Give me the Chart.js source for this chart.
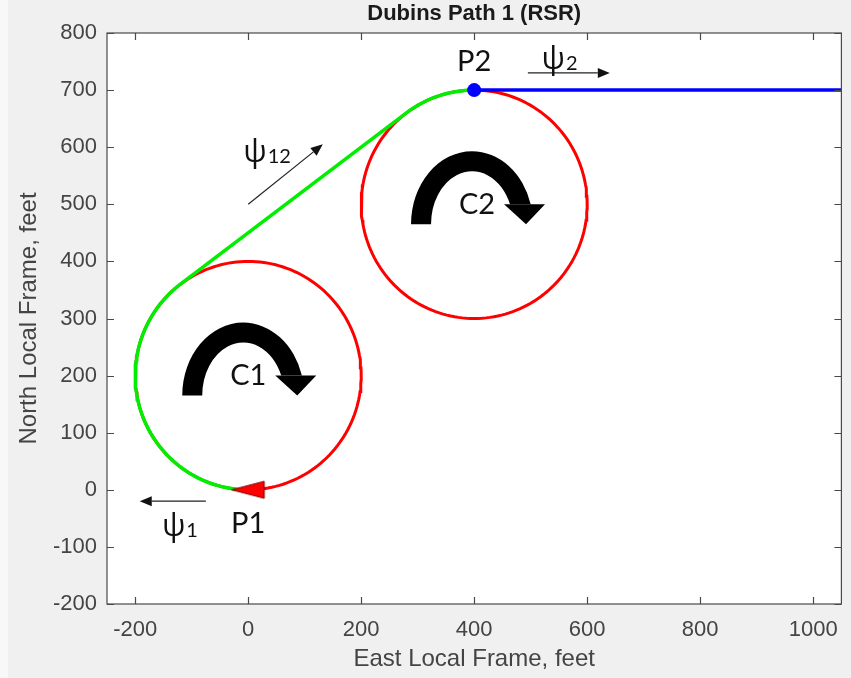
<!DOCTYPE html>
<html>
<head>
<meta charset="utf-8">
<title>Dubins Path 1 (RSR)</title>
<script src="https://cdn.jsdelivr.net/npm/chart.js@4.4.0/dist/chart.umd.min.js"></script>
<style>
  html, body { margin: 0; padding: 0; background: #ffffff; }
  canvas { display: block; }
</style>
</head>
<body>
<canvas id="dubinsChart" width="851" height="678"></canvas>
<script>
// values (feet)
const circleCenters = [[0, 200], [400, 500]];
const turnRadius = 200;
const startPoint = [0, 0];          // P1, heading west
const endPoint = [400, 700];        // P2, heading east
const tangentPoints = [[-120, 360], [280, 660]];
const exitLine = [[400, 700], [1050, 700]];

const xRange = [-250, 1050];
const yRange = [-200, 800];
const xTickValues = [-200, 0, 200, 400, 600, 800, 1000];
const yTickValues = [-200, -100, 0, 100, 200, 300, 400, 500, 600, 700, 800];

// text labels and thin direction arrows, placed in data units
const pointLabels = [
    {text: 'P1', x: 0, y: -60},
    {text: 'P2', x: 400, y: 749},
    {text: 'C1', x: 0, y: 200},
    {text: 'C2', x: 405, y: 500}
];
const headingLabels = [
    {sub: '1', x: -132, y: -66},
    {sub: '12', x: 12, y: 589},
    {sub: '2', x: 540, y: 752}
];
const headingArrows = [
    {from: [-75, -20], to: [-192, -20]},
    {from: [0, 500], to: [132, 605]},
    {from: [495, 730], to: [640, 730]}
];
// big clockwise turn arrows sit on the C1 / C2 labels
const turnArrowAnchors = [[0, 200], [405, 500]];

const toRad = (d) => d * Math.PI / 180;
const angleOf = (c, p) => Math.atan2(p[1] - c[1], p[0] - c[0]) * 180 / Math.PI;

// points along a circle arc, angles in degrees (decreasing = clockwise)
function arcPoints(center, r, fromDeg, toDeg) {
    const pts = [];
    const n = Math.max(2, Math.ceil(Math.abs(toDeg - fromDeg) / 2));
    for (let i = 0; i <= n; i++) {
        const a = toRad(fromDeg + (toDeg - fromDeg) * i / n);
        pts.push({x: center[0] + r * Math.cos(a), y: center[1] + r * Math.sin(a)});
    }
    return pts;
}

// RSR path: right turn on C1, straight, right turn on C2
const startAngle = angleOf(circleCenters[0], startPoint) + 360;      // 270
const leaveAngle = angleOf(circleCenters[0], tangentPoints[0]);      // ~127
const enterAngle = angleOf(circleCenters[1], tangentPoints[1]);      // ~127
const finishAngle = angleOf(circleCenters[1], endPoint);             // 90
const pathPoints = [
    ...arcPoints(circleCenters[0], turnRadius, startAngle, leaveAngle),
    ...arcPoints(circleCenters[1], turnRadius, enterAngle, finishAngle)
];

// left pointing triangle marker for P1
function makeTriangle() {
    const c = document.createElement('canvas');
    c.width = 36; c.height = 21;
    const g = c.getContext('2d');
    g.beginPath();
    g.moveTo(1.5, 10.5);
    g.lineTo(34, 2);
    g.lineTo(34, 19);
    g.closePath();
    g.fillStyle = '#ff0000';
    g.fill();
    g.strokeStyle = '#7a0000';
    g.lineWidth = 1;
    g.stroke();
    return c;
}

const backgroundPlugin = {
    id: 'figureBackground',
    beforeDraw(chart) {
        const {ctx, chartArea: a} = chart;
        ctx.save();
        ctx.fillStyle = '#f8f8f8';
        ctx.fillRect(0, 0, chart.width, chart.height);
        ctx.fillStyle = '#f0f0f0';
        ctx.fillRect(8, 0, chart.width - 8, chart.height);
        ctx.fillStyle = '#ffffff';
        ctx.fillRect(a.left, a.top, a.right - a.left, a.bottom - a.top);
        ctx.restore();
    }
};

// MATLAB style box with inward ticks on all four sides
const boxPlugin = {
    id: 'axesBox',
    afterDatasetsDraw(chart) {
        const {ctx, chartArea: a, scales: {x, y}} = chart;
        const len = 7;
        ctx.save();
        ctx.strokeStyle = '#4a4a4a';
        ctx.lineWidth = 1.2;
        ctx.beginPath();
        xTickValues.forEach(v => {
            const px = Math.round(x.getPixelForValue(v)) + 0.5;
            ctx.moveTo(px, a.bottom); ctx.lineTo(px, a.bottom - len);
            ctx.moveTo(px, a.top); ctx.lineTo(px, a.top + len);
        });
        yTickValues.forEach(v => {
            const py = Math.round(y.getPixelForValue(v)) + 0.5;
            ctx.moveTo(a.left, py); ctx.lineTo(a.left + len, py);
            ctx.moveTo(a.right, py); ctx.lineTo(a.right - len, py);
        });
        ctx.stroke();
        ctx.strokeRect(a.left, a.top, a.right - a.left, a.bottom - a.top);
        ctx.restore();
    }
};

function drawArrow(ctx, x0, y0, x1, y1) {
    const ang = Math.atan2(y1 - y0, x1 - x0);
    const head = 12, half = 5;
    const bx = x1 - head * Math.cos(ang), by = y1 - head * Math.sin(ang);
    ctx.beginPath();
    ctx.moveTo(x0, y0);
    ctx.lineTo(bx, by);
    ctx.stroke();
    ctx.beginPath();
    ctx.moveTo(x1, y1);
    ctx.lineTo(bx + half * Math.sin(ang), by - half * Math.cos(ang));
    ctx.lineTo(bx - half * Math.sin(ang), by + half * Math.cos(ang));
    ctx.closePath();
    ctx.fill();
}

function drawTurnArrow(ctx, lx, ly) {
    const cx = lx - 5, cy = ly + 20;
    const outerEnd = 2 * Math.PI - Math.asin(20 / 73);
    const innerEnd = 2 * Math.PI - Math.asin(20 / 53);
    ctx.beginPath();
    ctx.ellipse(cx, cy, 61, 73, 0, Math.PI, outerEnd, false);
    ctx.ellipse(cx, cy, 41, 53, 0, innerEnd, Math.PI, true);
    ctx.closePath();
    ctx.fill();
    ctx.beginPath();
    ctx.moveTo(lx + 27, ly);
    ctx.lineTo(lx + 68, ly);
    ctx.lineTo(lx + 49, ly + 20);
    ctx.closePath();
    ctx.fill();
}

const annotationPlugin = {
    id: 'pathAnnotations',
    afterDatasetsDraw(chart) {
        const {ctx, scales: {x, y}} = chart;
        ctx.save();
        ctx.fillStyle = '#000000';
        turnArrowAnchors.forEach(p => {
            drawTurnArrow(ctx, x.getPixelForValue(p[0]), y.getPixelForValue(p[1]));
        });

        ctx.fillStyle = '#111111';
        ctx.strokeStyle = '#222222';
        ctx.lineWidth = 1.2;
        headingArrows.forEach(a => {
            drawArrow(ctx, x.getPixelForValue(a.from[0]), y.getPixelForValue(a.from[1]),
                x.getPixelForValue(a.to[0]), y.getPixelForValue(a.to[1]));
        });

        ctx.textBaseline = 'middle';
        ctx.font = '29px Lato, "Open Sans", sans-serif';
        ctx.textAlign = 'center';
        pointLabels.forEach(l => {
            ctx.fillText(l.text, x.getPixelForValue(l.x), y.getPixelForValue(l.y));
        });

        headingLabels.forEach(l => {
            const px = x.getPixelForValue(l.x), py = y.getPixelForValue(l.y);
            ctx.font = '31px "Open Sans", "DejaVu Sans", sans-serif';
            ctx.textAlign = 'center';
            const w = ctx.measureText('ψ').width;
            ctx.fillText('ψ', px, py);
            ctx.font = '20px Lato, "Open Sans", sans-serif';
            ctx.textAlign = 'left';
            ctx.fillText(l.sub, px + w / 2 + 1, py + 3);
        });
        ctx.restore();
    }
};

const fontFamily = '"Liberation Sans", Arial, sans-serif';
const tickFont = {family: fontFamily, size: 22};
const labelFont = {family: fontFamily, size: 24, lineHeight: 1.2};
const tickColor = '#444444';

new Chart(document.getElementById('dubinsChart'), {
    type: 'scatter',
    data: {
        datasets: [
            {
                label: 'P1',
                data: [{x: startPoint[0], y: startPoint[1]}],
                pointStyle: makeTriangle(),
                order: 0
            },
            {
                label: 'P2',
                data: [{x: endPoint[0], y: endPoint[1]}],
                pointStyle: 'circle',
                pointRadius: 7,
                backgroundColor: '#0000ff',
                borderColor: '#0000ff',
                borderWidth: 0,
                order: 1
            },
            {
                label: 'RSR path',
                data: pathPoints,
                showLine: true,
                borderColor: '#00ee00',
                borderWidth: 3.5,
                pointRadius: 0,
                borderJoinStyle: 'round',
                borderCapStyle: 'round',
                order: 2
            },
            {
                label: 'Exit',
                data: exitLine.map(p => ({x: p[0], y: p[1]})),
                showLine: true,
                borderColor: '#0000ff',
                borderWidth: 3.5,
                pointRadius: 0,
                order: 3
            },
            {
                label: 'C1',
                data: arcPoints(circleCenters[0], turnRadius, 0, 360),
                showLine: true,
                borderColor: '#ff0000',
                borderWidth: 3,
                pointRadius: 0,
                order: 4
            },
            {
                label: 'C2',
                data: arcPoints(circleCenters[1], turnRadius, 0, 360),
                showLine: true,
                borderColor: '#ff0000',
                borderWidth: 3,
                pointRadius: 0,
                order: 4
            }
        ]
    },
    options: {
        responsive: false,
        animation: false,
        layout: {padding: {left: 0, right: 9, top: 0, bottom: 0}},
        plugins: {
            legend: {display: false},
            tooltip: {enabled: false},
            title: {
                display: true,
                fullSize: false,
                text: 'Dubins Path 1 (RSR)',
                color: '#1a1a1a',
                font: {family: fontFamily, size: 22, weight: 'bold', lineHeight: 1.2},
                padding: {top: 1, bottom: 5.6}
            }
        },
        scales: {
            x: {
                type: 'linear',
                min: xRange[0],
                max: xRange[1],
                grid: {display: false, drawTicks: false},
                border: {display: false},
                afterBuildTicks: (s) => { s.ticks = xTickValues.map(v => ({value: v})); },
                afterFit: (s) => { s.height = 74; },
                ticks: {font: tickFont, color: tickColor, padding: 13, maxRotation: 0, callback: (v) => String(v)},
                title: {
                    display: true,
                    text: 'East Local Frame, feet',
                    color: tickColor,
                    font: labelFont,
                    padding: {top: 0, bottom: 4}
                }
            },
            y: {
                type: 'linear',
                min: yRange[0],
                max: yRange[1],
                grid: {display: false, drawTicks: false},
                border: {display: false},
                afterBuildTicks: (s) => { s.ticks = yTickValues.map(v => ({value: v})); },
                afterFit: (s) => { s.width = 107; },
                ticks: {font: tickFont, color: tickColor, padding: 10, callback: (v) => String(v)},
                title: {
                    display: true,
                    text: 'North Local Frame, feet',
                    color: tickColor,
                    font: labelFont,
                    padding: {top: 15, bottom: 0}
                }
            }
        }
    },
    plugins: [backgroundPlugin, boxPlugin, annotationPlugin]
});
</script>
</body>
</html>
